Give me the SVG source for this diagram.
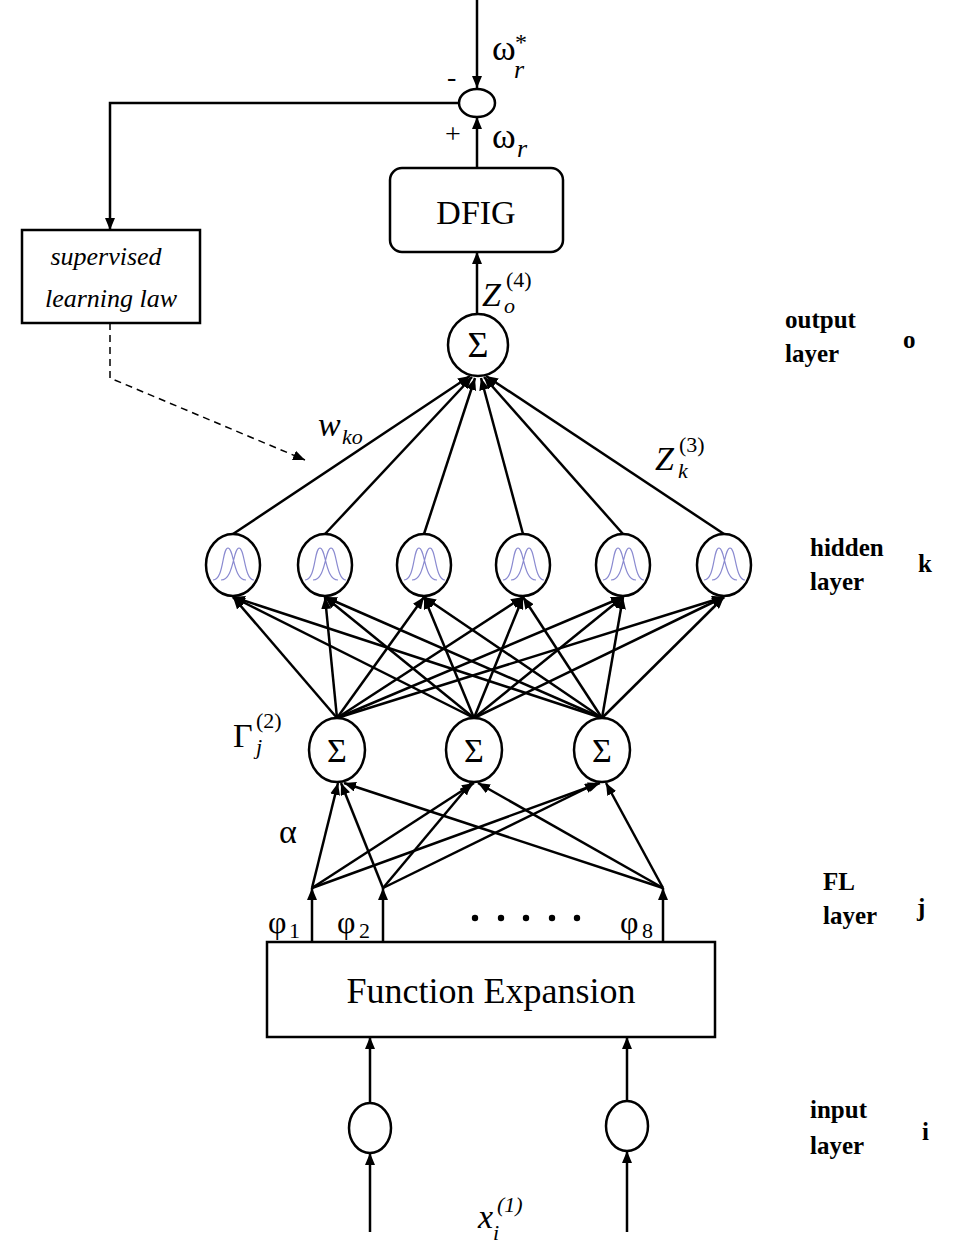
<svg xmlns="http://www.w3.org/2000/svg" width="978" height="1260" viewBox="0 0 978 1260">
<style>
.l{stroke:#000;stroke-width:2.5;fill:none}
.n{stroke:#000;stroke-width:2.5;fill:#fff}
.t{font-family:"Liberation Serif","Times New Roman",serif;fill:#000}
.b{font-family:"Liberation Serif","Times New Roman",serif;font-weight:bold;font-size:25px}
.g{stroke:#8a8ad0;stroke-width:1.2;fill:none}
</style>
<defs>
<marker id="h" viewBox="0 0 12 10" refX="12" refY="5" markerWidth="12" markerHeight="10" orient="auto" markerUnits="userSpaceOnUse"><path d="M0,0L12,5L0,10z"/></marker>
</defs>
<rect width="978" height="1260" fill="#fff"/>
<g id="connectors" class="l">
<line x1="477" y1="0" x2="477" y2="88" marker-end="url(#h)"/>
<polyline points="459,103 110,103 110,230" marker-end="url(#h)"/>
<line x1="477" y1="168" x2="477" y2="117" marker-end="url(#h)"/>
<line x1="477" y1="315" x2="477" y2="252" marker-end="url(#h)"/>
<polyline points="110,323 110,378 305,460" stroke-dasharray="7,5" stroke-width="1.5" marker-end="url(#h)"/>
<g id="hid-out">
<line x1="233" y1="534" x2="470" y2="376" marker-end="url(#h)"/>
<line x1="325" y1="534" x2="472" y2="377" marker-end="url(#h)"/>
<line x1="424" y1="534" x2="475" y2="378" marker-end="url(#h)"/>
<line x1="523" y1="534" x2="481" y2="378" marker-end="url(#h)"/>
<line x1="623" y1="534" x2="484" y2="377" marker-end="url(#h)"/>
<line x1="724" y1="534" x2="486" y2="376" marker-end="url(#h)"/>
</g>
<g id="sum-hid">
<line x1="337" y1="718" x2="233" y2="597" marker-end="url(#h)"/>
<line x1="337" y1="718" x2="325" y2="597" marker-end="url(#h)"/>
<line x1="337" y1="718" x2="424" y2="597" marker-end="url(#h)"/>
<line x1="337" y1="718" x2="523" y2="597" marker-end="url(#h)"/>
<line x1="337" y1="718" x2="623" y2="597" marker-end="url(#h)"/>
<line x1="337" y1="718" x2="724" y2="597" marker-end="url(#h)"/>
<line x1="474" y1="718" x2="233" y2="597" marker-end="url(#h)"/>
<line x1="474" y1="718" x2="325" y2="597" marker-end="url(#h)"/>
<line x1="474" y1="718" x2="424" y2="597" marker-end="url(#h)"/>
<line x1="474" y1="718" x2="523" y2="597" marker-end="url(#h)"/>
<line x1="474" y1="718" x2="623" y2="597" marker-end="url(#h)"/>
<line x1="474" y1="718" x2="724" y2="597" marker-end="url(#h)"/>
<line x1="602" y1="718" x2="233" y2="597" marker-end="url(#h)"/>
<line x1="602" y1="718" x2="325" y2="597" marker-end="url(#h)"/>
<line x1="602" y1="718" x2="424" y2="597" marker-end="url(#h)"/>
<line x1="602" y1="718" x2="523" y2="597" marker-end="url(#h)"/>
<line x1="602" y1="718" x2="623" y2="597" marker-end="url(#h)"/>
<line x1="602" y1="718" x2="724" y2="597" marker-end="url(#h)"/>
</g>
<g id="phi-sum">
<line x1="312" y1="888" x2="338" y2="783" marker-end="url(#h)"/>
<line x1="312" y1="888" x2="474" y2="783" marker-end="url(#h)"/>
<line x1="312" y1="888" x2="600" y2="783" marker-end="url(#h)"/>
<line x1="383" y1="888" x2="341" y2="783" marker-end="url(#h)"/>
<line x1="383" y1="888" x2="471" y2="783" marker-end="url(#h)"/>
<line x1="383" y1="888" x2="597" y2="783" marker-end="url(#h)"/>
<line x1="663" y1="888" x2="344" y2="783" marker-end="url(#h)"/>
<line x1="663" y1="888" x2="478" y2="783" marker-end="url(#h)"/>
<line x1="663" y1="888" x2="606" y2="783" marker-end="url(#h)"/>
</g>
<line x1="312" y1="942" x2="312" y2="888" marker-end="url(#h)"/>
<line x1="383" y1="942" x2="383" y2="888" marker-end="url(#h)"/>
<line x1="663" y1="942" x2="663" y2="888" marker-end="url(#h)"/>
<line x1="370" y1="1103" x2="370" y2="1037" marker-end="url(#h)"/>
<line x1="627" y1="1101" x2="627" y2="1037" marker-end="url(#h)"/>
<line x1="370" y1="1232" x2="370" y2="1153" marker-end="url(#h)"/>
<line x1="627" y1="1232" x2="627" y2="1151" marker-end="url(#h)"/>
</g>
<g id="junction"><ellipse class="n" cx="477" cy="103" rx="18" ry="14"/></g>
<g id="dfig"><rect class="n" x="390" y="168" width="173" height="84" rx="12"/><text class="t" x="476" y="224" font-size="34" text-anchor="middle">DFIG</text></g>
<g id="supervised"><rect class="n" x="22" y="230" width="178" height="93"/><text class="t" x="106" y="265" font-size="26" font-style="italic" text-anchor="middle">supervised</text><text class="t" x="111" y="307" font-size="26" font-style="italic" text-anchor="middle">learning law</text></g>
<g id="output"><ellipse class="n" cx="478" cy="345" rx="30" ry="31"/><text class="t" x="478" y="357" font-size="36" text-anchor="middle">Σ</text></g>
<g id="hidden">
<g id="h1"><ellipse class="n" cx="233" cy="565" rx="27" ry="31"/><path class="g" d="M213,580C224,580 222,548 228,548C234,548 233,580 246,580M221,580C234,580 233,548 239,548C245,548 244,580 254,580"/></g>
<g id="h2"><ellipse class="n" cx="325" cy="565" rx="27" ry="31"/><path class="g" d="M305,580C316,580 314,548 320,548C326,548 325,580 338,580M313,580C326,580 325,548 331,548C337,548 336,580 346,580"/></g>
<g id="h3"><ellipse class="n" cx="424" cy="565" rx="27" ry="31"/><path class="g" d="M404,580C415,580 413,548 419,548C425,548 424,580 437,580M412,580C425,580 424,548 430,548C436,548 435,580 445,580"/></g>
<g id="h4"><ellipse class="n" cx="523" cy="565" rx="27" ry="31"/><path class="g" d="M503,580C514,580 512,548 518,548C524,548 523,580 536,580M511,580C524,580 523,548 529,548C535,548 534,580 544,580"/></g>
<g id="h5"><ellipse class="n" cx="623" cy="565" rx="27" ry="31"/><path class="g" d="M603,580C614,580 612,548 618,548C624,548 623,580 636,580M611,580C624,580 623,548 629,548C635,548 634,580 644,580"/></g>
<g id="h6"><ellipse class="n" cx="724" cy="565" rx="27" ry="31"/><path class="g" d="M704,580C715,580 713,548 719,548C725,548 724,580 737,580M712,580C725,580 724,548 730,548C736,548 735,580 745,580"/></g>
</g>
<g id="sums">
<g id="s1"><ellipse class="n" cx="337" cy="750" rx="28" ry="32"/><text class="t" x="337" y="762" font-size="34" text-anchor="middle">Σ</text></g>
<g id="s2"><ellipse class="n" cx="474" cy="750" rx="28" ry="32"/><text class="t" x="474" y="762" font-size="34" text-anchor="middle">Σ</text></g>
<g id="s3"><ellipse class="n" cx="602" cy="750" rx="28" ry="32"/><text class="t" x="602" y="762" font-size="34" text-anchor="middle">Σ</text></g>
</g>
<g id="fe"><rect class="n" x="267" y="942" width="448" height="95"/><text class="t" x="491" y="1003" font-size="36" text-anchor="middle">Function Expansion</text></g>
<g id="inputs"><ellipse id="i1" class="n" cx="370" cy="1128" rx="21" ry="25"/><ellipse id="i2" class="n" cx="627" cy="1126" rx="21" ry="25"/></g>
<g id="labels" class="t">
<text x="447" y="86" font-size="28">-</text>
<text x="445" y="143" font-size="28">+</text>
<text x="492" y="60" font-size="36">ω</text><text x="514" y="78" font-size="26" font-style="italic">r</text><text x="515" y="50" font-size="24">*</text>
<text x="492" y="148" font-size="36">ω</text><text x="517" y="157" font-size="26" font-style="italic">r</text>
<text x="482" y="306" font-size="34" font-style="italic">Z</text><text x="504" y="313" font-size="22" font-style="italic">o</text><text x="506" y="287" font-size="22">(4)</text>
<text x="318" y="436" font-size="34" font-style="italic">w</text><text x="342" y="444" font-size="22" font-style="italic">ko</text>
<text x="655" y="470" font-size="34" font-style="italic">Z</text><text x="678" y="478" font-size="22" font-style="italic">k</text><text x="679" y="452" font-size="22">(3)</text>
<text x="233" y="747" font-size="34">Γ</text><text x="256" y="754" font-size="22" font-style="italic">j</text><text x="256" y="728" font-size="22">(2)</text>
<text x="279" y="843" font-size="34">α</text>
<text x="268" y="933" font-size="32">φ</text><text x="289" y="938" font-size="22">1</text>
<text x="337" y="933" font-size="32">φ</text><text x="359" y="938" font-size="22">2</text>
<text x="620" y="933" font-size="32">φ</text><text x="642" y="938" font-size="22">8</text>
<g><circle cx="475" cy="918" r="3.2"/><circle cx="501" cy="918" r="3.2"/><circle cx="526" cy="918" r="3.2"/><circle cx="552" cy="918" r="3.2"/><circle cx="577" cy="918" r="3.2"/></g>
<text x="478" y="1228" font-size="34" font-style="italic">x</text><text x="493" y="1240" font-size="22" font-style="italic">i</text><text x="497" y="1212" font-size="22" font-style="italic">(1)</text>
<text class="b" x="785" y="328">output</text><text class="b" x="785" y="362">layer</text><text class="b" x="903" y="348">o</text>
<text class="b" x="810" y="556">hidden</text><text class="b" x="810" y="590">layer</text><text class="b" x="918" y="572">k</text>
<text class="b" x="823" y="890">FL</text><text class="b" x="823" y="924">layer</text><text class="b" x="917" y="916">j</text>
<text class="b" x="810" y="1118">input</text><text class="b" x="810" y="1154">layer</text><text class="b" x="922" y="1140">i</text>
</g>
</svg>
